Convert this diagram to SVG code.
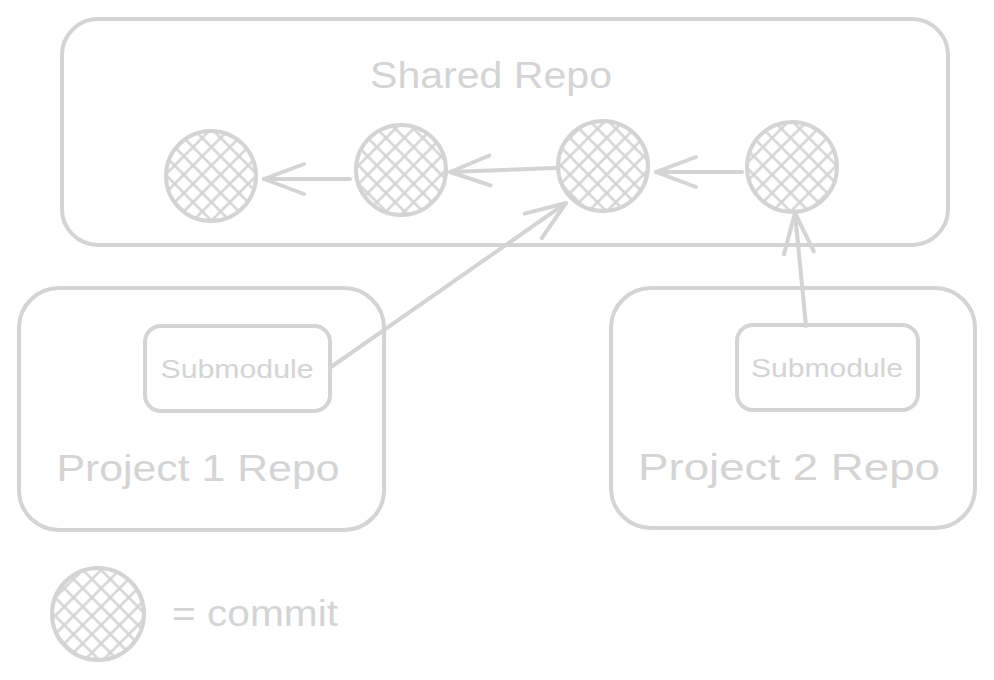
<svg xmlns="http://www.w3.org/2000/svg" width="994" height="680" viewBox="0 0 994 680">
<defs>
<pattern id="hatch" patternUnits="userSpaceOnUse" width="13" height="13" patternTransform="rotate(45)">
<line x1="6.5" y1="-1" x2="6.5" y2="14" stroke="#d4d4d4" stroke-width="2.5"/>
<line x1="-1" y1="6.5" x2="14" y2="6.5" stroke="#d4d4d4" stroke-width="2.5"/>
</pattern>
<marker id="ah" viewBox="0 0 20 20" refX="18" refY="10" markerWidth="20" markerHeight="20" markerUnits="userSpaceOnUse" orient="auto" overflow="visible">
<path d="M-22,-5 L18,10 L-22,25" fill="none" stroke="#d4d4d4" stroke-width="4" stroke-linecap="round" stroke-linejoin="round"/>
</marker>
</defs>
<style>
.box{fill:none;stroke:#d4d4d4;stroke-width:4}
.commit{fill:url(#hatch);stroke:#d4d4d4;stroke-width:4}
.t{font-family:"Liberation Sans",Arial,sans-serif;fill:#d4d4d4;text-anchor:middle}
.big{font-size:36px}
.small{font-size:26px}
.conn{fill:none;stroke:#d4d4d4;stroke-width:4;stroke-linecap:round}
</style>
<rect width="994" height="680" fill="#ffffff"/>
<g id="shared-repo">
<rect class="box" x="62" y="19" width="886" height="226" rx="36"/>
<text class="t big" x="491" y="88" textLength="242" lengthAdjust="spacingAndGlyphs">Shared Repo</text>
</g>
<g id="commit1"><circle class="commit" cx="211" cy="176" r="45"/></g>
<g id="commit2"><circle class="commit" cx="401" cy="170" r="45"/></g>
<g id="commit3"><circle class="commit" cx="603" cy="166" r="45"/></g>
<g id="commit4"><circle class="commit" cx="792" cy="167" r="45"/></g>
<g id="project1">
<rect class="box" x="19" y="288" width="365" height="242" rx="40"/>
<text class="t big" x="198" y="481" textLength="283" lengthAdjust="spacingAndGlyphs">Project 1 Repo</text>
</g>
<g id="submodule1">
<rect class="box" x="145" y="326" width="185" height="85" rx="16"/>
<text class="t small" x="237" y="378" textLength="153" lengthAdjust="spacingAndGlyphs">Submodule</text>
</g>
<g id="project2">
<rect class="box" x="611" y="288" width="364" height="240" rx="40"/>
<text class="t big" x="789" y="480" textLength="302" lengthAdjust="spacingAndGlyphs">Project 2 Repo</text>
</g>
<g id="submodule2">
<rect class="box" x="737" y="325" width="181" height="85" rx="16"/>
<text class="t small" x="827" y="377" textLength="152" lengthAdjust="spacingAndGlyphs">Submodule</text>
</g>
<g id="legend">
<circle class="commit" cx="98" cy="614" r="46"/>
<text class="t big" x="255" y="626" textLength="166" lengthAdjust="spacingAndGlyphs">= commit</text>
</g>
<g id="connectors">
<line class="conn" x1="350" y1="179" x2="264" y2="179" marker-end="url(#ah)"/>
<line class="conn" x1="555" y1="168" x2="450" y2="172" marker-end="url(#ah)"/>
<line class="conn" x1="742" y1="172" x2="656" y2="172" marker-end="url(#ah)"/>
<line class="conn" x1="806" y1="326" x2="795" y2="213" marker-end="url(#ah)"/>
<line class="conn" x1="331" y1="367" x2="566" y2="203" marker-end="url(#ah)"/>
</g>
</svg>
